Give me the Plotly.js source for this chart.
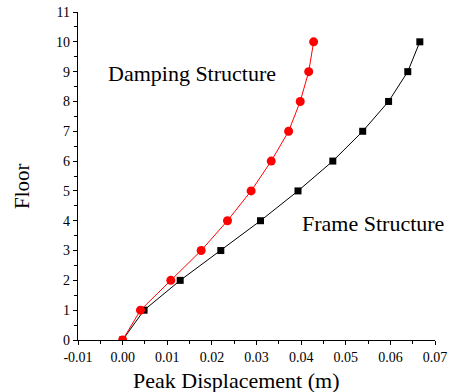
<!DOCTYPE html>
<html>
<head>
<meta charset="utf-8">
<script src="https://cdn.plot.ly/plotly-3.0.1.min.js"></script>
<style>html,body{margin:0;padding:0;background:#fff;}</style>
</head>
<body>
<div id="chart" style="width:450px;height:392px;"></div>
<script>
const floors = [0, 1, 2, 3, 4, 5, 6, 7, 8, 9, 10];
const frameDisp = [0.0, 0.0048, 0.0129, 0.0220, 0.0309, 0.0393, 0.0471, 0.0538, 0.0596, 0.0639, 0.0666];
const dampingDisp = [0.0, 0.0040, 0.0108, 0.0176, 0.0235, 0.0288, 0.0333, 0.0372, 0.0398, 0.0417, 0.0428];
const xTickVals = [-0.01, 0.0, 0.01, 0.02, 0.03, 0.04, 0.05, 0.06, 0.07];
const yTickVals = [0, 1, 2, 3, 4, 5, 6, 7, 8, 9, 10, 11];
const seriesNames = ["Frame Structure", "Damping Structure"];
const xTitle = "Peak Displacement (m)";
const yTitle = "Floor";

const serif = "'Liberation Serif', 'DejaVu Serif', serif";

const traces = [
  {
    x: frameDisp, y: floors, name: seriesNames[0], type: "scatter", mode: "lines+markers",
    line: {color: "#000000", width: 1},
    marker: {symbol: "square", size: 7, color: "#000000"}
  },
  {
    x: dampingDisp, y: floors, name: seriesNames[1], type: "scatter", mode: "lines+markers",
    line: {color: "#ff0000", width: 1},
    marker: {symbol: "circle", size: 9, color: "#ff0000"}
  }
];

const layout = {
  width: 450, height: 392,
  margin: {l: 78, r: 15, t: 12, b: 52},
  paper_bgcolor: "#ffffff", plot_bgcolor: "#ffffff",
  showlegend: false,
  font: {family: serif, color: "#000000", size: 14},
  xaxis: {
    range: [-0.01, 0.07],
    tickvals: xTickVals,
    ticktext: xTickVals.map(v => v.toFixed(2)),
    ticks: "outside", ticklen: 4, tickwidth: 1, tickcolor: "#000",
    minor: {dtick: 0.005, tick0: 0, ticks: "outside", ticklen: 2.5, tickcolor: "#000", showgrid: false},
    showline: true, linecolor: "#000", linewidth: 1.2,
    showgrid: false, zeroline: false,
    tickfont: {family: serif, size: 14}
  },
  yaxis: {
    range: [0, 11],
    tickvals: yTickVals,
    ticks: "outside", ticklen: 4, tickwidth: 1, tickcolor: "#000",
    minor: {dtick: 0.5, tick0: 0, ticks: "outside", ticklen: 2.5, tickcolor: "#000", showgrid: false},
    showline: true, linecolor: "#000", linewidth: 1.2,
    showgrid: false, zeroline: false,
    tickfont: {family: serif, size: 14}
  },
  annotations: [
    {x: 0.01555, y: 8.93, xref: "x", yref: "y", text: seriesNames[1], showarrow: false,
     font: {family: serif, size: 22, color: "#000"}, xanchor: "center", yanchor: "middle"},
    {x: 0.0560, y: 3.9, xref: "x", yref: "y", text: seriesNames[0], showarrow: false,
     font: {family: serif, size: 22, color: "#000"}, xanchor: "center", yanchor: "middle"},
    {x: 0.4426, y: -0.124, xref: "paper", yref: "paper", text: xTitle, showarrow: false,
     font: {family: serif, size: 22, color: "#000"}, xanchor: "center", yanchor: "middle"},
    {x: -0.1569, y: 0.4695, xref: "paper", yref: "paper", text: yTitle, showarrow: false,
     textangle: -90,
     font: {family: serif, size: 21, color: "#000"}, xanchor: "center", yanchor: "middle"}
  ]
};

Plotly.newPlot("chart", traces, layout, {displayModeBar: false, staticPlot: true});
</script>
</body>
</html>
